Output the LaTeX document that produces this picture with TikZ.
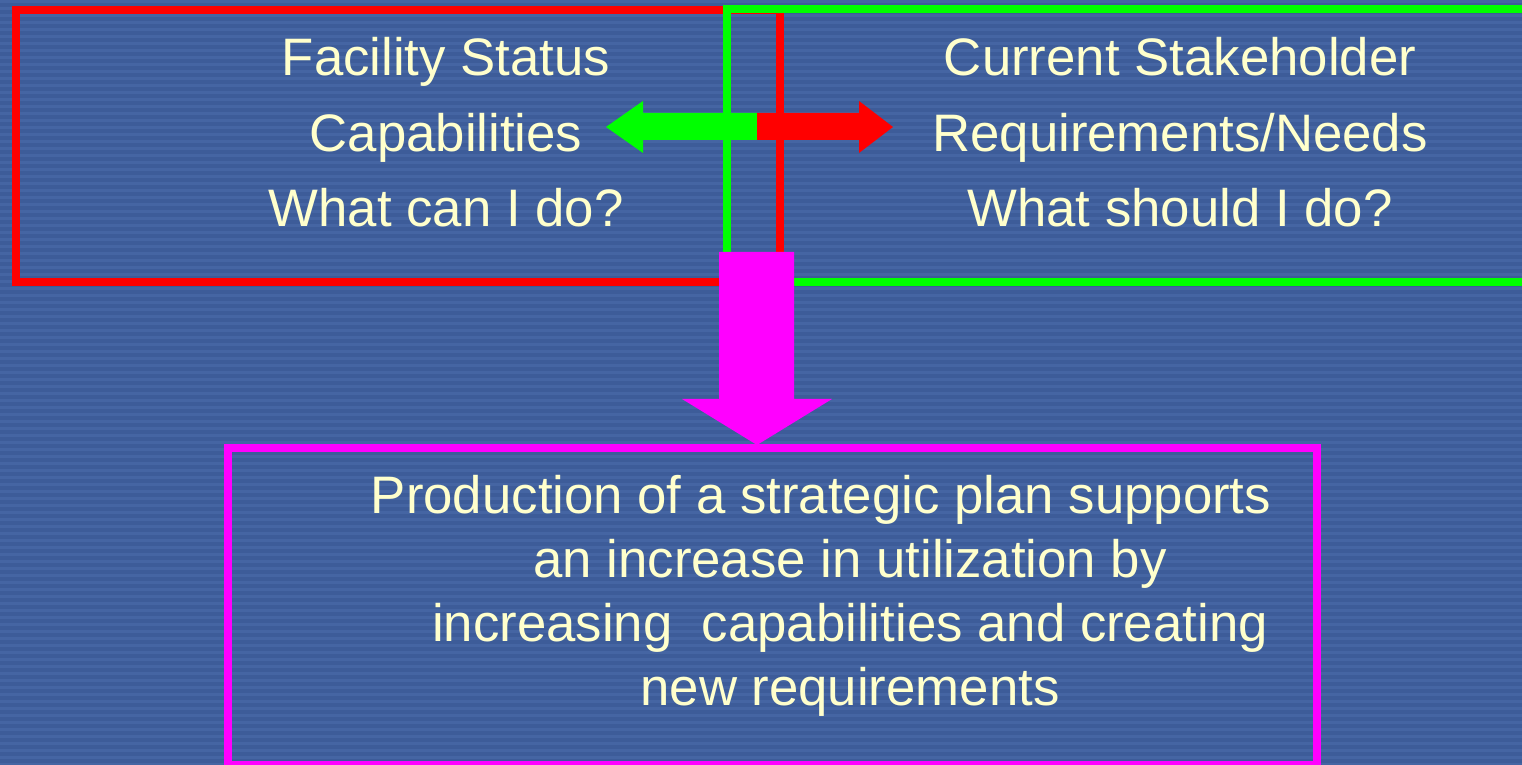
\documentclass[tikz,border=0pt]{standalone}
\usepackage{fontspec}
\setmainfont{Liberation Sans}

\definecolor{slideblue}{RGB}{61,92,153}
\definecolor{slidestripe}{RGB}{69,101,163}
\definecolor{notecream}{RGB}{255,255,204}
\definecolor{capred}{RGB}{255,0,0}
\definecolor{needgreen}{RGB}{0,255,0}
\definecolor{planpink}{RGB}{255,0,255}

\tikzset{
  boxframe/.style={draw=#1, line width=0.08cm},
  slidetext/.style={text=notecream, align=center, font=\fontsize{15}{21.6}\selectfont},
  plantext/.style={text=notecream, align=center, font=\fontsize{15}{18.2}\selectfont},
}

\begin{document}
\begin{tikzpicture}[x=0.01cm, y=-0.01cm]
\useasboundingbox (0,0) rectangle (1522,765);
\clip (0,0) rectangle (1522,765);
% striped background
\fill[slideblue] (0,0) rectangle (1522,765);
\foreach \y in {0,7,...,763}
  \fill[slidestripe] (0,\y) rectangle (1522,\y+3);
% the two boxes on top
\draw[boxframe=capred] (16,10) rectangle (780,282);
\draw[boxframe=needgreen] (727,9) rectangle (1530,282);
% double arrow between them
\fill[needgreen] (757,113) -- (643,113) -- (643,101) -- (606,127) -- (643,153) -- (643,140) -- (757,140) -- cycle;
\fill[capred] (757,113) -- (859,113) -- (859,101) -- (893,127) -- (859,153) -- (859,140) -- (757,140) -- cycle;
% down arrow and plan box
\fill[planpink] (719,252) -- (794,252) -- (794,399) -- (832,399) -- (757,445) -- (682,399) -- (719,399) -- cycle;
\draw[boxframe=planpink] (228,448) rectangle (1317,765);
% texts (base = last line)
\node[slidetext, anchor=base] (status) at (446,227) {Facility Status\\Capabilities\\What can I do?};
\node[slidetext, anchor=base] (needs) at (1180,227) {Current Stakeholder\\Requirements/Needs\\What should I do?};
\node[plantext, anchor=base] (plan) at (850,706) {Production of a strategic plan supports\hspace*{0.58cm}\\an increase in utilization by\\increasing\ \ capabilities and creating\\new requirements};
\end{tikzpicture}
\end{document}
